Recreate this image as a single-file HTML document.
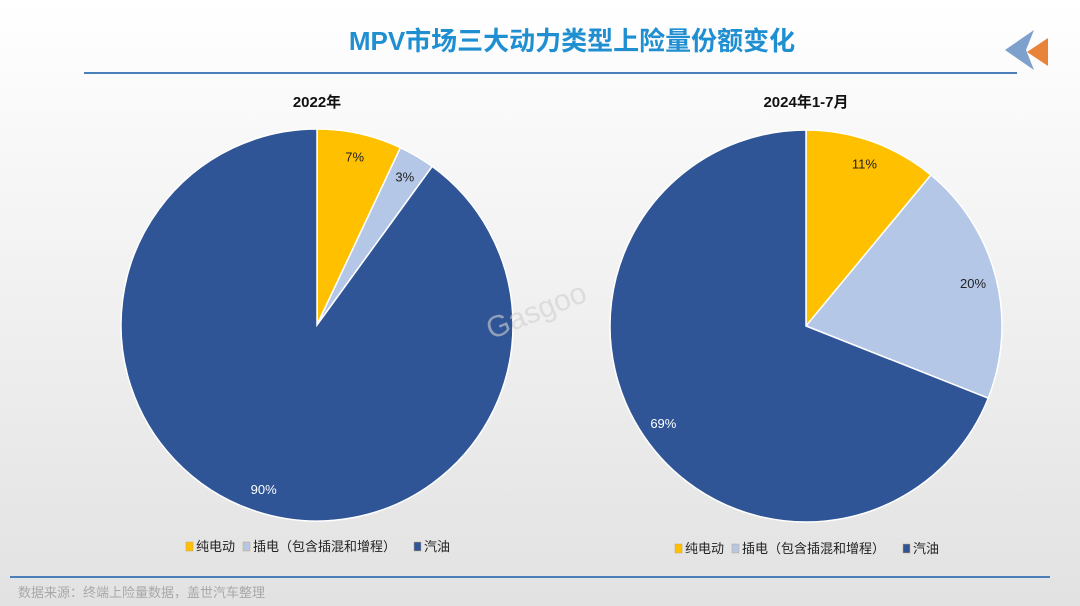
<!DOCTYPE html>
<html><head><meta charset="utf-8"><style>
body{margin:0;width:1080px;height:606px;overflow:hidden;font-family:"Liberation Sans","Noto Sans CJK SC",sans-serif;}
#bg{position:absolute;left:0;top:0;width:1080px;height:606px;background:linear-gradient(#ffffff 0%,#f6f6f6 30%,#e2e2e2 100%);}
</style></head><body>
<div id="bg"></div>
<svg id="chart" width="1080" height="606" style="position:absolute;left:0;top:0">
<text x="572" y="50" text-anchor="middle" font-size="26" font-weight="bold" fill="#1f8fd2">MPV市场三大动力类型上险量份额变化</text>
<line x1="84" y1="73" x2="1017" y2="73" stroke="#4a80ba" stroke-width="2"/>
<polygon points="1034,30 1005,50 1034,70 1026,50" fill="#7ea0cc"/>
<polygon points="1048,38 1027,52 1048,66" fill="#e8843a"/>
<text x="317" y="107" text-anchor="middle" font-size="15" font-weight="bold" fill="#111">2022年</text>
<text x="806" y="107" text-anchor="middle" font-size="15" font-weight="bold" fill="#111">2024年1-7月</text>
<g id="pies"></g>
<g id="legends"></g>
<line x1="10" y1="577" x2="1050" y2="577" stroke="#4a80ba" stroke-width="2"/>
<text x="18" y="597" font-size="13" fill="#a8a8a8">数据来源：终端上险量数据，盖世汽车整理</text>
<text x="540" y="320" text-anchor="middle" font-size="30" fill="#d0d0d0" opacity="0.6" transform="rotate(-22 540 320)">Gasgoo</text>
</svg>
<script>
const categories=["纯电动","插电（包含插混和增程）","汽油"];
const values2022=[7,3,90];
const values2024=[11,20,69];
const colors=["#FFC000","#B4C7E7","#2F5597"];
const NS="http://www.w3.org/2000/svg";
const svg=document.getElementById('chart');
const pg=document.getElementById('pies');
function pie(vals,cx,cy,R,id){
  const g=document.createElementNS(NS,'g');
  
  
  pg.appendChild(g);
  const tot=vals.reduce((a,b)=>a+b,0);
  let a0=0;
  vals.forEach((v,i)=>{
    const a1=a0+v/tot*2*Math.PI;
    const p=(a)=>[cx+R*Math.sin(a),cy-R*Math.cos(a)];
    const [x0,y0]=p(a0),[x1,y1]=p(a1);
    const path=document.createElementNS(NS,'path');
    path.setAttribute('d',`M${cx},${cy}L${x0},${y0}A${R},${R} 0 ${a1-a0>Math.PI?1:0} 1 ${x1},${y1}Z`);
    path.setAttribute('fill',colors[i]);
    path.setAttribute('stroke','#fff');
    path.setAttribute('stroke-width','1.5');
    
    
    g.appendChild(path);
    const am=(a0+a1)/2,r=R*0.88;
    const t=document.createElementNS(NS,'text');
    t.setAttribute('x',cx+r*Math.sin(am));
    t.setAttribute('y',cy-r*Math.cos(am)+5);
    t.setAttribute('text-anchor','middle');
    t.setAttribute('font-size','13');
    t.setAttribute('fill',i==2?'#fff':'#222');
    t.textContent=Math.round(v/tot*100)+'%';
    
    
    g.appendChild(t);
    a0=a1;
  });
}
pie(values2022,317,325,196,'2022');
pie(values2024,806,326,196,'2024');
function legend(x,y,id){
  const lg=document.getElementById('legends');
  const g=document.createElementNS(NS,'g');
  
  
  lg.appendChild(g);
  const offs=[0,57,228];
  categories.forEach((c,i)=>{
    const r=document.createElementNS(NS,'rect');
    r.setAttribute('x',x+offs[i]);r.setAttribute('y',y-9);r.setAttribute('width',7);r.setAttribute('height',9);
    r.setAttribute('fill',colors[i]);r.setAttribute('stroke','#c9a070');r.setAttribute('stroke-width','0.5');
    
    
    g.appendChild(r);
    const t=document.createElementNS(NS,'text');
    t.setAttribute('x',x+offs[i]+10);t.setAttribute('y',y);t.setAttribute('font-size','13');t.setAttribute('fill','#222');
    t.textContent=c;
    
    
    g.appendChild(t);
  });
}
legend(186,551,'2022');
legend(675,553,'2024');
</script>
</body></html>
